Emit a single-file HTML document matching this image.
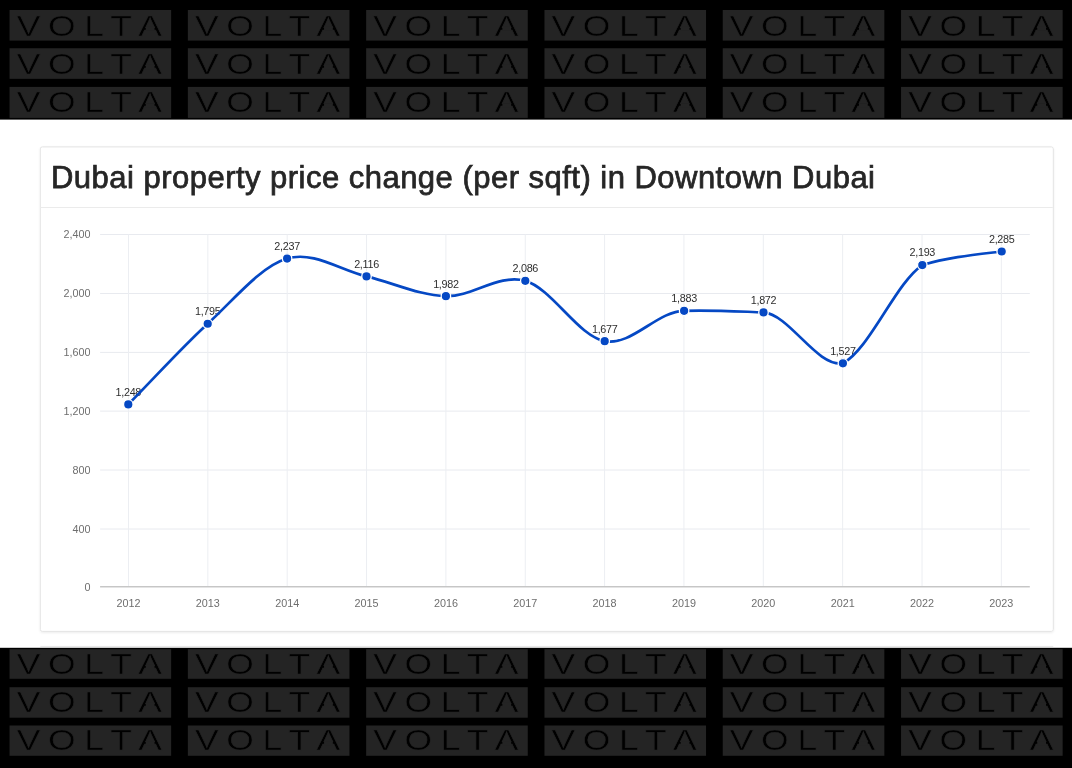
<!DOCTYPE html>
<html><head><meta charset="utf-8"><title>Dubai property price change</title>
<style>
html,body{margin:0;padding:0;background:#fff;width:1072px;height:768px;overflow:hidden}
svg{display:block;will-change:transform}
.wm{font-family:"Liberation Sans",sans-serif;font-size:30.3px;fill:#000;stroke:#242424;stroke-width:0.55px}
.ttl{font-family:"Liberation Sans",sans-serif;font-size:31px;font-weight:400;fill:#262626;stroke:#262626;stroke-width:0.75px}
.ax{font-family:"Liberation Sans",sans-serif;font-size:10.8px;fill:#6e6e6e}
.dl{font-family:"Liberation Sans",sans-serif;font-size:10.8px;fill:#2e2e2e;letter-spacing:-0.3px}
</style></head><body>
<svg width="1072" height="768" viewBox="0 0 1072 768">
<rect x="0" y="0" width="1072" height="119.6" fill="#000"/>
<rect x="9.55" y="10.00" width="161.6" height="30.60" fill="#242424"/>
<text class="wm" transform="translate(9.55,0) scale(1.17,1)" x="6.07 32.78 63.80 86.03 109.96" y="35.60">VOLTA</text>
<rect x="145.75" y="26.60" width="8.8" height="4.2" fill="#242424"/>
<rect x="187.85" y="10.00" width="161.6" height="30.60" fill="#242424"/>
<text class="wm" transform="translate(187.85,0) scale(1.17,1)" x="6.07 32.78 63.80 86.03 109.96" y="35.60">VOLTA</text>
<rect x="324.05" y="26.60" width="8.8" height="4.2" fill="#242424"/>
<rect x="366.15" y="10.00" width="161.6" height="30.60" fill="#242424"/>
<text class="wm" transform="translate(366.15,0) scale(1.17,1)" x="6.07 32.78 63.80 86.03 109.96" y="35.60">VOLTA</text>
<rect x="502.35" y="26.60" width="8.8" height="4.2" fill="#242424"/>
<rect x="544.45" y="10.00" width="161.6" height="30.60" fill="#242424"/>
<text class="wm" transform="translate(544.45,0) scale(1.17,1)" x="6.07 32.78 63.80 86.03 109.96" y="35.60">VOLTA</text>
<rect x="680.65" y="26.60" width="8.8" height="4.2" fill="#242424"/>
<rect x="722.75" y="10.00" width="161.6" height="30.60" fill="#242424"/>
<text class="wm" transform="translate(722.75,0) scale(1.17,1)" x="6.07 32.78 63.80 86.03 109.96" y="35.60">VOLTA</text>
<rect x="858.95" y="26.60" width="8.8" height="4.2" fill="#242424"/>
<rect x="901.05" y="10.00" width="161.6" height="30.60" fill="#242424"/>
<text class="wm" transform="translate(901.05,0) scale(1.17,1)" x="6.07 32.78 63.80 86.03 109.96" y="35.60">VOLTA</text>
<rect x="1037.25" y="26.60" width="8.8" height="4.2" fill="#242424"/>
<rect x="9.55" y="48.25" width="161.6" height="30.60" fill="#242424"/>
<text class="wm" transform="translate(9.55,0) scale(1.17,1)" x="6.07 32.78 63.80 86.03 109.96" y="73.85">VOLTA</text>
<rect x="145.75" y="64.85" width="8.8" height="4.2" fill="#242424"/>
<rect x="187.85" y="48.25" width="161.6" height="30.60" fill="#242424"/>
<text class="wm" transform="translate(187.85,0) scale(1.17,1)" x="6.07 32.78 63.80 86.03 109.96" y="73.85">VOLTA</text>
<rect x="324.05" y="64.85" width="8.8" height="4.2" fill="#242424"/>
<rect x="366.15" y="48.25" width="161.6" height="30.60" fill="#242424"/>
<text class="wm" transform="translate(366.15,0) scale(1.17,1)" x="6.07 32.78 63.80 86.03 109.96" y="73.85">VOLTA</text>
<rect x="502.35" y="64.85" width="8.8" height="4.2" fill="#242424"/>
<rect x="544.45" y="48.25" width="161.6" height="30.60" fill="#242424"/>
<text class="wm" transform="translate(544.45,0) scale(1.17,1)" x="6.07 32.78 63.80 86.03 109.96" y="73.85">VOLTA</text>
<rect x="680.65" y="64.85" width="8.8" height="4.2" fill="#242424"/>
<rect x="722.75" y="48.25" width="161.6" height="30.60" fill="#242424"/>
<text class="wm" transform="translate(722.75,0) scale(1.17,1)" x="6.07 32.78 63.80 86.03 109.96" y="73.85">VOLTA</text>
<rect x="858.95" y="64.85" width="8.8" height="4.2" fill="#242424"/>
<rect x="901.05" y="48.25" width="161.6" height="30.60" fill="#242424"/>
<text class="wm" transform="translate(901.05,0) scale(1.17,1)" x="6.07 32.78 63.80 86.03 109.96" y="73.85">VOLTA</text>
<rect x="1037.25" y="64.85" width="8.8" height="4.2" fill="#242424"/>
<rect x="9.55" y="86.90" width="161.6" height="31.00" fill="#242424"/>
<text class="wm" transform="translate(9.55,0) scale(1.17,1)" x="6.07 32.78 63.80 86.03 109.96" y="112.50">VOLTA</text>
<rect x="145.75" y="103.50" width="8.8" height="4.2" fill="#242424"/>
<rect x="187.85" y="86.90" width="161.6" height="31.00" fill="#242424"/>
<text class="wm" transform="translate(187.85,0) scale(1.17,1)" x="6.07 32.78 63.80 86.03 109.96" y="112.50">VOLTA</text>
<rect x="324.05" y="103.50" width="8.8" height="4.2" fill="#242424"/>
<rect x="366.15" y="86.90" width="161.6" height="31.00" fill="#242424"/>
<text class="wm" transform="translate(366.15,0) scale(1.17,1)" x="6.07 32.78 63.80 86.03 109.96" y="112.50">VOLTA</text>
<rect x="502.35" y="103.50" width="8.8" height="4.2" fill="#242424"/>
<rect x="544.45" y="86.90" width="161.6" height="31.00" fill="#242424"/>
<text class="wm" transform="translate(544.45,0) scale(1.17,1)" x="6.07 32.78 63.80 86.03 109.96" y="112.50">VOLTA</text>
<rect x="680.65" y="103.50" width="8.8" height="4.2" fill="#242424"/>
<rect x="722.75" y="86.90" width="161.6" height="31.00" fill="#242424"/>
<text class="wm" transform="translate(722.75,0) scale(1.17,1)" x="6.07 32.78 63.80 86.03 109.96" y="112.50">VOLTA</text>
<rect x="858.95" y="103.50" width="8.8" height="4.2" fill="#242424"/>
<rect x="901.05" y="86.90" width="161.6" height="31.00" fill="#242424"/>
<text class="wm" transform="translate(901.05,0) scale(1.17,1)" x="6.07 32.78 63.80 86.03 109.96" y="112.50">VOLTA</text>
<rect x="1037.25" y="103.50" width="8.8" height="4.2" fill="#242424"/>
<rect x="0" y="647.8" width="1072" height="120.2" fill="#000"/>
<rect x="9.55" y="649.20" width="161.6" height="29.60" fill="#242424"/>
<text class="wm" transform="translate(9.55,0) scale(1.17,1)" x="6.07 32.78 63.80 86.03 109.96" y="673.80">VOLTA</text>
<rect x="145.75" y="664.80" width="8.8" height="4.2" fill="#242424"/>
<rect x="187.85" y="649.20" width="161.6" height="29.60" fill="#242424"/>
<text class="wm" transform="translate(187.85,0) scale(1.17,1)" x="6.07 32.78 63.80 86.03 109.96" y="673.80">VOLTA</text>
<rect x="324.05" y="664.80" width="8.8" height="4.2" fill="#242424"/>
<rect x="366.15" y="649.20" width="161.6" height="29.60" fill="#242424"/>
<text class="wm" transform="translate(366.15,0) scale(1.17,1)" x="6.07 32.78 63.80 86.03 109.96" y="673.80">VOLTA</text>
<rect x="502.35" y="664.80" width="8.8" height="4.2" fill="#242424"/>
<rect x="544.45" y="649.20" width="161.6" height="29.60" fill="#242424"/>
<text class="wm" transform="translate(544.45,0) scale(1.17,1)" x="6.07 32.78 63.80 86.03 109.96" y="673.80">VOLTA</text>
<rect x="680.65" y="664.80" width="8.8" height="4.2" fill="#242424"/>
<rect x="722.75" y="649.20" width="161.6" height="29.60" fill="#242424"/>
<text class="wm" transform="translate(722.75,0) scale(1.17,1)" x="6.07 32.78 63.80 86.03 109.96" y="673.80">VOLTA</text>
<rect x="858.95" y="664.80" width="8.8" height="4.2" fill="#242424"/>
<rect x="901.05" y="649.20" width="161.6" height="29.60" fill="#242424"/>
<text class="wm" transform="translate(901.05,0) scale(1.17,1)" x="6.07 32.78 63.80 86.03 109.96" y="673.80">VOLTA</text>
<rect x="1037.25" y="664.80" width="8.8" height="4.2" fill="#242424"/>
<rect x="9.55" y="687.20" width="161.6" height="30.50" fill="#242424"/>
<text class="wm" transform="translate(9.55,0) scale(1.17,1)" x="6.07 32.78 63.80 86.03 109.96" y="711.80">VOLTA</text>
<rect x="145.75" y="702.80" width="8.8" height="4.2" fill="#242424"/>
<rect x="187.85" y="687.20" width="161.6" height="30.50" fill="#242424"/>
<text class="wm" transform="translate(187.85,0) scale(1.17,1)" x="6.07 32.78 63.80 86.03 109.96" y="711.80">VOLTA</text>
<rect x="324.05" y="702.80" width="8.8" height="4.2" fill="#242424"/>
<rect x="366.15" y="687.20" width="161.6" height="30.50" fill="#242424"/>
<text class="wm" transform="translate(366.15,0) scale(1.17,1)" x="6.07 32.78 63.80 86.03 109.96" y="711.80">VOLTA</text>
<rect x="502.35" y="702.80" width="8.8" height="4.2" fill="#242424"/>
<rect x="544.45" y="687.20" width="161.6" height="30.50" fill="#242424"/>
<text class="wm" transform="translate(544.45,0) scale(1.17,1)" x="6.07 32.78 63.80 86.03 109.96" y="711.80">VOLTA</text>
<rect x="680.65" y="702.80" width="8.8" height="4.2" fill="#242424"/>
<rect x="722.75" y="687.20" width="161.6" height="30.50" fill="#242424"/>
<text class="wm" transform="translate(722.75,0) scale(1.17,1)" x="6.07 32.78 63.80 86.03 109.96" y="711.80">VOLTA</text>
<rect x="858.95" y="702.80" width="8.8" height="4.2" fill="#242424"/>
<rect x="901.05" y="687.20" width="161.6" height="30.50" fill="#242424"/>
<text class="wm" transform="translate(901.05,0) scale(1.17,1)" x="6.07 32.78 63.80 86.03 109.96" y="711.80">VOLTA</text>
<rect x="1037.25" y="702.80" width="8.8" height="4.2" fill="#242424"/>
<rect x="9.55" y="725.50" width="161.6" height="30.30" fill="#242424"/>
<text class="wm" transform="translate(9.55,0) scale(1.17,1)" x="6.07 32.78 63.80 86.03 109.96" y="750.10">VOLTA</text>
<rect x="145.75" y="741.10" width="8.8" height="4.2" fill="#242424"/>
<rect x="187.85" y="725.50" width="161.6" height="30.30" fill="#242424"/>
<text class="wm" transform="translate(187.85,0) scale(1.17,1)" x="6.07 32.78 63.80 86.03 109.96" y="750.10">VOLTA</text>
<rect x="324.05" y="741.10" width="8.8" height="4.2" fill="#242424"/>
<rect x="366.15" y="725.50" width="161.6" height="30.30" fill="#242424"/>
<text class="wm" transform="translate(366.15,0) scale(1.17,1)" x="6.07 32.78 63.80 86.03 109.96" y="750.10">VOLTA</text>
<rect x="502.35" y="741.10" width="8.8" height="4.2" fill="#242424"/>
<rect x="544.45" y="725.50" width="161.6" height="30.30" fill="#242424"/>
<text class="wm" transform="translate(544.45,0) scale(1.17,1)" x="6.07 32.78 63.80 86.03 109.96" y="750.10">VOLTA</text>
<rect x="680.65" y="741.10" width="8.8" height="4.2" fill="#242424"/>
<rect x="722.75" y="725.50" width="161.6" height="30.30" fill="#242424"/>
<text class="wm" transform="translate(722.75,0) scale(1.17,1)" x="6.07 32.78 63.80 86.03 109.96" y="750.10">VOLTA</text>
<rect x="858.95" y="741.10" width="8.8" height="4.2" fill="#242424"/>
<rect x="901.05" y="725.50" width="161.6" height="30.30" fill="#242424"/>
<text class="wm" transform="translate(901.05,0) scale(1.17,1)" x="6.07 32.78 63.80 86.03 109.96" y="750.10">VOLTA</text>
<rect x="1037.25" y="741.10" width="8.8" height="4.2" fill="#242424"/>
<line x1="40.3" x2="1053.3" y1="646.4" y2="646.4" stroke="#e6e6e6" stroke-width="1"/>
<filter id="sh" x="-2%" y="-2%" width="104%" height="106%"><feDropShadow dx="0" dy="1" stdDeviation="1.3" flood-color="#000" flood-opacity="0.07"/></filter>
<rect x="40.3" y="146.9" width="1013" height="484.5" rx="2" fill="#fff" stroke="#e4e4e4" stroke-width="1" filter="url(#sh)"/>
<line x1="40.8" x2="1052.8" y1="207.5" y2="207.5" stroke="#ebebeb" stroke-width="1"/>
<text class="ttl" x="51" y="187.5" textLength="824" lengthAdjust="spacing">Dubai property price change (per sqft) in Downtown Dubai</text>
<line x1="100.1" x2="1029.8" y1="529.00" y2="529.00" stroke="#e8eaef" stroke-width="1"/>
<line x1="100.1" x2="1029.8" y1="470.00" y2="470.00" stroke="#e8eaef" stroke-width="1"/>
<line x1="100.1" x2="1029.8" y1="411.10" y2="411.10" stroke="#e8eaef" stroke-width="1"/>
<line x1="100.1" x2="1029.8" y1="352.40" y2="352.40" stroke="#e8eaef" stroke-width="1"/>
<line x1="100.1" x2="1029.8" y1="293.50" y2="293.50" stroke="#e8eaef" stroke-width="1"/>
<line x1="100.1" x2="1029.8" y1="234.50" y2="234.50" stroke="#e8eaef" stroke-width="1"/>
<line x1="128.50" x2="128.50" y1="234.5" y2="586.5" stroke="#eceef2" stroke-width="1"/>
<line x1="207.85" x2="207.85" y1="234.5" y2="586.5" stroke="#eceef2" stroke-width="1"/>
<line x1="287.20" x2="287.20" y1="234.5" y2="586.5" stroke="#eceef2" stroke-width="1"/>
<line x1="366.55" x2="366.55" y1="234.5" y2="586.5" stroke="#eceef2" stroke-width="1"/>
<line x1="445.90" x2="445.90" y1="234.5" y2="586.5" stroke="#eceef2" stroke-width="1"/>
<line x1="525.25" x2="525.25" y1="234.5" y2="586.5" stroke="#eceef2" stroke-width="1"/>
<line x1="604.60" x2="604.60" y1="234.5" y2="586.5" stroke="#eceef2" stroke-width="1"/>
<line x1="683.95" x2="683.95" y1="234.5" y2="586.5" stroke="#eceef2" stroke-width="1"/>
<line x1="763.30" x2="763.30" y1="234.5" y2="586.5" stroke="#eceef2" stroke-width="1"/>
<line x1="842.65" x2="842.65" y1="234.5" y2="586.5" stroke="#eceef2" stroke-width="1"/>
<line x1="922.00" x2="922.00" y1="234.5" y2="586.5" stroke="#eceef2" stroke-width="1"/>
<line x1="1001.35" x2="1001.35" y1="234.5" y2="586.5" stroke="#eceef2" stroke-width="1"/>
<line x1="100.1" x2="1029.8" y1="586.5" y2="586.5" stroke="#c6c6c6" stroke-width="1"/>
<line x1="100.1" x2="1029.8" y1="587.5" y2="587.5" stroke="#e4e4e4" stroke-width="1"/>
<text class="ax" x="90.6" y="590.50" text-anchor="end">0</text>
<text class="ax" x="90.6" y="532.60" text-anchor="end">400</text>
<text class="ax" x="90.6" y="473.60" text-anchor="end">800</text>
<text class="ax" x="90.6" y="414.70" text-anchor="end">1,200</text>
<text class="ax" x="90.6" y="356.00" text-anchor="end">1,600</text>
<text class="ax" x="90.6" y="297.10" text-anchor="end">2,000</text>
<text class="ax" x="90.6" y="238.10" text-anchor="end">2,400</text>
<text class="ax" x="128.50" y="607" text-anchor="middle">2012</text>
<text class="ax" x="207.85" y="607" text-anchor="middle">2013</text>
<text class="ax" x="287.20" y="607" text-anchor="middle">2014</text>
<text class="ax" x="366.55" y="607" text-anchor="middle">2015</text>
<text class="ax" x="445.90" y="607" text-anchor="middle">2016</text>
<text class="ax" x="525.25" y="607" text-anchor="middle">2017</text>
<text class="ax" x="604.60" y="607" text-anchor="middle">2018</text>
<text class="ax" x="683.95" y="607" text-anchor="middle">2019</text>
<text class="ax" x="763.30" y="607" text-anchor="middle">2020</text>
<text class="ax" x="842.65" y="607" text-anchor="middle">2021</text>
<text class="ax" x="922.00" y="607" text-anchor="middle">2022</text>
<text class="ax" x="1001.35" y="607" text-anchor="middle">2023</text>
<text class="dl" x="128.30" y="395.83" text-anchor="middle">1,248</text>
<text class="dl" x="207.70" y="315.16" text-anchor="middle">1,795</text>
<text class="dl" x="287.10" y="249.96" text-anchor="middle">2,237</text>
<text class="dl" x="366.50" y="267.81" text-anchor="middle">2,116</text>
<text class="dl" x="445.90" y="287.57" text-anchor="middle">1,982</text>
<text class="dl" x="525.30" y="272.24" text-anchor="middle">2,086</text>
<text class="dl" x="604.70" y="332.56" text-anchor="middle">1,677</text>
<text class="dl" x="684.10" y="302.18" text-anchor="middle">1,883</text>
<text class="dl" x="763.50" y="303.80" text-anchor="middle">1,872</text>
<text class="dl" x="842.90" y="354.68" text-anchor="middle">1,527</text>
<text class="dl" x="922.30" y="256.45" text-anchor="middle">2,193</text>
<text class="dl" x="1001.70" y="242.89" text-anchor="middle">2,285</text>
<path d="M128.30,404.43 C154.77,377.54 181.23,348.07 207.70,323.76 C234.17,299.44 260.63,266.46 287.10,258.56 C313.57,250.67 340.03,270.14 366.50,276.41 C392.97,282.68 419.43,295.44 445.90,296.17 C472.37,296.91 498.83,273.34 525.30,280.84 C551.77,288.33 578.23,336.17 604.70,341.16 C631.17,346.57 657.63,310.78 684.10,310.78 C710.57,309.79 737.03,311.42 763.50,312.40 C789.97,314.61 816.43,367.22 842.90,363.28 C869.37,349.52 895.83,282.75 922.30,265.05 C948.77,257.09 975.23,254.63 1001.70,251.49" fill="none" stroke="#0548c4" stroke-width="2.7" stroke-linejoin="round" stroke-linecap="round"/>
<circle cx="128.30" cy="404.43" r="4.75" fill="#0548c4" stroke="#fff" stroke-width="1.3"/>
<circle cx="207.70" cy="323.76" r="4.75" fill="#0548c4" stroke="#fff" stroke-width="1.3"/>
<circle cx="287.10" cy="258.56" r="4.75" fill="#0548c4" stroke="#fff" stroke-width="1.3"/>
<circle cx="366.50" cy="276.41" r="4.75" fill="#0548c4" stroke="#fff" stroke-width="1.3"/>
<circle cx="445.90" cy="296.17" r="4.75" fill="#0548c4" stroke="#fff" stroke-width="1.3"/>
<circle cx="525.30" cy="280.84" r="4.75" fill="#0548c4" stroke="#fff" stroke-width="1.3"/>
<circle cx="604.70" cy="341.16" r="4.75" fill="#0548c4" stroke="#fff" stroke-width="1.3"/>
<circle cx="684.10" cy="310.78" r="4.75" fill="#0548c4" stroke="#fff" stroke-width="1.3"/>
<circle cx="763.50" cy="312.40" r="4.75" fill="#0548c4" stroke="#fff" stroke-width="1.3"/>
<circle cx="842.90" cy="363.28" r="4.75" fill="#0548c4" stroke="#fff" stroke-width="1.3"/>
<circle cx="922.30" cy="265.05" r="4.75" fill="#0548c4" stroke="#fff" stroke-width="1.3"/>
<circle cx="1001.70" cy="251.49" r="4.75" fill="#0548c4" stroke="#fff" stroke-width="1.3"/>
</svg>
</body></html>
